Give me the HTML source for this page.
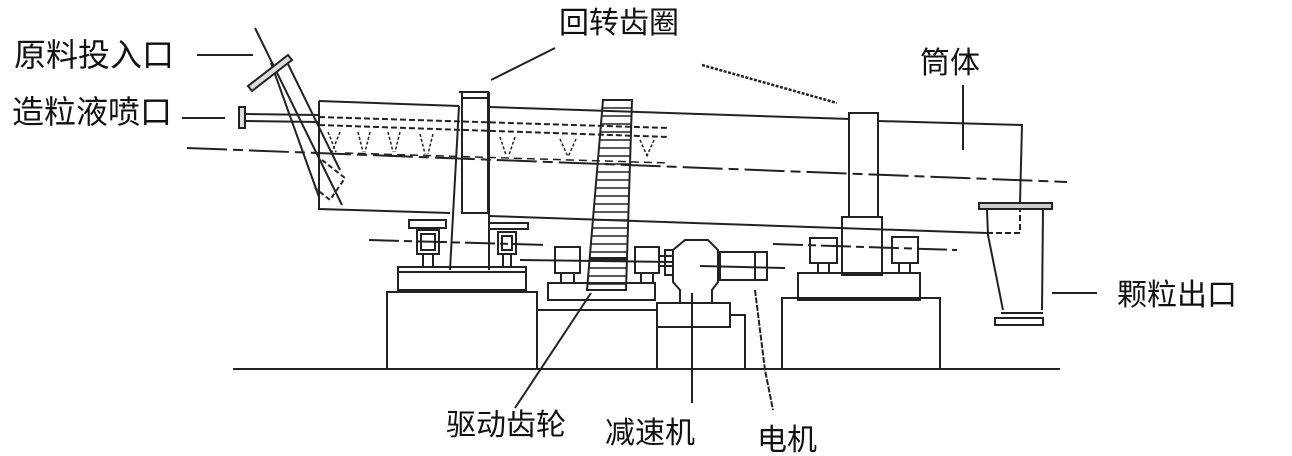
<!DOCTYPE html>
<html><head><meta charset="utf-8"><style>
html,body{margin:0;padding:0;background:#fff;}
svg{display:block}
text{font-family:"Liberation Sans","Noto Sans CJK SC",sans-serif;fill:#111;font-size:32px}
</style></head><body>
<svg width="1292" height="456" viewBox="0 0 1292 456" xmlns="http://www.w3.org/2000/svg">
<rect width="1292" height="456" fill="#fff"/>
<g stroke="#222" stroke-width="2" fill="none">
<!-- labels leaders -->
<line x1="197" y1="55" x2="253" y2="55"/>
<line x1="182" y1="118" x2="225" y2="118"/>
<line x1="491" y1="80" x2="555" y2="48"/>
<line x1="963" y1="85" x2="963" y2="150"/>
<line x1="1052" y1="293" x2="1097" y2="293"/>
<line x1="591" y1="293" x2="515" y2="408"/>
<line x1="692" y1="293" x2="692" y2="403"/>
<path d="M755 290 L760 330 L765 370 L770 395 L773 410" stroke-dasharray="6 1.5"/>
<path d="M702 65 L837 103" stroke-dasharray="3 1.5" stroke-width="2.5"/>
<!-- ground -->
<line x1="233" y1="369" x2="1060" y2="369"/>
<!-- drum -->
<path d="M319 101 L459 106 M489 107 L850 119 M878 121 L1022 125 L1020 203"/>
<path d="M319 101 L319 209 L450 213 M489 216 L987 233"/>
<path d="M987 233 L1020 233 L1020 205" stroke-dasharray="6 3"/>
<path d="M187 148 L1067 182" stroke-dasharray="40 6 10 6"/>
<path d="M319 117 L669 128" stroke-dasharray="6 3"/>
<path d="M319 125 L669 137" stroke-dasharray="6 3"/>
<path d="M345 153 L669 163" stroke-dasharray="8 5" stroke-width="1.5"/>
<g stroke-width="1.5" stroke-dasharray="3 2">
<path d="M328 132 l8 20 M340 132 l-8 20 M358 132 l5 20 M370 132 l-5 20 M388 132 l5 20 M400 132 l-5 20 M420 134 l5 20 M433 134 l-5 20 M500 137 l6 18 M515 137 l-6 18 M560 139 l8 18 M576 139 l-8 18 M640 140 l8 18 M654 140 l-8 18"/>
</g>
<!-- feed chute -->
<line x1="255" y1="28" x2="342" y2="205"/>
<line x1="271" y1="63" x2="319" y2="197"/>
<line x1="287" y1="62" x2="340" y2="170"/>
<path d="M322 160 L345 178 L330 200 L315 188" stroke-dasharray="5 3"/>
<path d="M248 86 L288 55 L292 60 L252 91 Z" fill="#ddd"/>
<!-- spray nozzle -->
<rect x="239" y="107" width="6" height="21" fill="#ddd"/>
<line x1="245" y1="114" x2="319" y2="115"/>
<line x1="245" y1="121" x2="319" y2="122"/>
<!-- left tyre -->
<rect x="462" y="92" width="26" height="121"/>
<line x1="459" y1="92" x2="489" y2="92"/>
<line x1="462" y1="98" x2="488" y2="98"/>
<path d="M459 106 L450 270 M489 92 L489 270"/>
<!-- left rollers -->
<rect x="409" y="220" width="37" height="8"/>
<rect x="489" y="223" width="39" height="6"/>
<rect x="417" y="230" width="22" height="24"/>
<rect x="421" y="234" width="14" height="16"/>
<rect x="498" y="232" width="18" height="22"/>
<rect x="502" y="236" width="10" height="14"/>
<path d="M423 254 v13 M433 254 v13 M503 254 v13 M511 254 v13"/>
<line x1="369" y1="240" x2="548" y2="245" stroke-dasharray="30 5 8 5"/>
<rect x="398" y="267" width="128" height="23"/>
<line x1="398" y1="272" x2="526" y2="272"/>
<rect x="387" y="292" width="150" height="77"/>
<!-- gear ring -->
<path d="M603 100 L632 100 L626 290 L587 290 Z"/>
<g stroke-width="1.5">
<path d="M603 108h29 M602 116h30 M601 124h31 M601 132h30 M600 140h31 M599 148h32 M598 156h33 M598 164h32 M597 172h33 M596 180h34 M596 188h33 M595 196h34 M594 204h35 M594 212h34 M593 220h35 M592 228h36 M592 236h35 M591 244h36 M590 252h37 M590 260h36 M589 268h37 M588 276h38 M588 284h38"/>
</g>
<path d="M589 259h37" stroke-width="4"/>
<!-- pinion bearings -->
<rect x="555" y="247" width="25" height="26"/>
<rect x="635" y="247" width="24" height="26"/>
<path d="M561 273 v10 M574 273 v10 M641 273 v10 M653 273 v10"/>
<line x1="520" y1="260" x2="672" y2="262"/>
<line x1="659" y1="256" x2="672" y2="256"/><line x1="659" y1="266" x2="672" y2="266"/>
<rect x="548" y="283" width="107" height="17"/>
<rect x="537" y="310" width="120" height="59"/>
<path d="M657 315 L657 369"/>
<!-- reducer -->
<path d="M680 303 L680 290 L673 282 L673 250 L685 240 L708 240 L718 250 L718 282 L712 290 L712 303"/>
<rect x="665" y="250" width="8" height="25"/>
<rect x="657" y="303" width="73" height="24"/>
<path d="M730 315 L745 315 L745 369"/>
<!-- motor -->
<rect x="720" y="252" width="47" height="28"/>
<line x1="755" y1="252" x2="755" y2="280"/>
<line x1="700" y1="266" x2="785" y2="268"/>
<!-- right tyre -->
<rect x="849" y="113" width="29" height="104"/>
<rect x="842" y="217" width="40" height="58"/>
<rect x="810" y="238" width="27" height="25"/>
<rect x="892" y="237" width="26" height="26"/>
<path d="M818 263 v10 M829 263 v10 M899 263 v10 M910 263 v10"/>
<line x1="773" y1="244" x2="957" y2="250" stroke-dasharray="30 5 8 5"/>
<rect x="798" y="273" width="122" height="27"/>
<rect x="782" y="298" width="158" height="71"/>
<!-- discharge -->
<rect x="979" y="203" width="73" height="6" fill="#ccc"/>
<path d="M987 210 L988 235 L1003 310 M1043 210 L1042 310"/>
<line x1="1001" y1="313" x2="1043" y2="313"/>
<rect x="995" y="318" width="48" height="7"/>
</g>
<text x="14" y="66">原料投入口</text>
<text x="12" y="123">造粒液喷口</text>
<text x="559" y="33" style="font-size:30px">回转齿圈</text>
<text x="920" y="73" style="font-size:30px">筒体</text>
<text x="1117" y="305" style="font-size:30px">颗粒出口</text>
<text x="446" y="435" style="font-size:30px">驱动齿轮</text>
<text x="605" y="443" style="font-size:30px">减速机</text>
<text x="757" y="450" style="font-size:30px">电机</text>
</svg>
</body></html>
